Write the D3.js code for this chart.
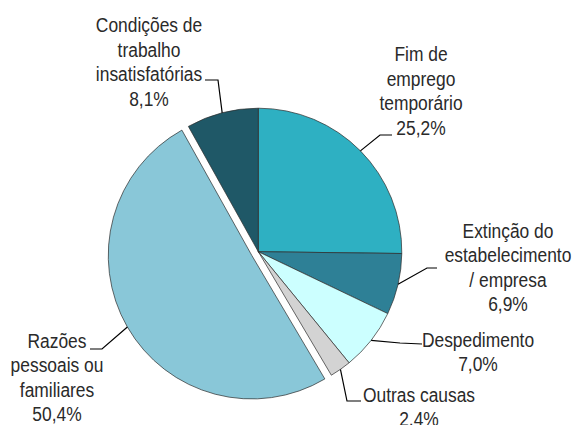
<!DOCTYPE html>
<html lang="pt">
<head>
<meta charset="UTF-8">
<title>Motivos de saída</title>
<style>
    body {
        margin: 0;
        background: #FFFFFF;
    }
    svg text {
        font-family: "Liberation Sans", Arial, sans-serif;
        font-size: 20px;
        fill: #2a2a2a;
    }
</style>
</head>
<body>
<svg id="chart" width="574" height="425"></svg>
<script src="https://d3js.org/d3.v7.min.js"></script>
<script>
    // Data (clockwise from 12 o'clock)
    const categories = [
        "Fim de emprego temporário",
        "Extinção do estabelecimento / empresa",
        "Despedimento",
        "Outras causas",
        "Razões pessoais ou familiares",
        "Condições de trabalho insatisfatórias"
    ];
    const values = [25.2, 6.9, 7.0, 2.4, 50.4, 8.1];
    const valueLabels = ["25,2%", "6,9%", "7,0%", "2,4%", "50,4%", "8,1%"];
    const labelLines = [
        ["Fim de", "emprego", "temporário"],
        ["Extinção do", "estabelecimento", "/ empresa"],
        ["Despedimento"],
        ["Outras causas"],
        ["Razões", "pessoais ou", "familiares"],
        ["Condições de", "trabalho", "insatisfatórias"]
    ];
    const colors = ["#2EB0C2", "#2E8096", "#CCFFFF", "#D3D3D3", "#89C7D8", "#1F5867"];
    const exploded = [false, false, false, false, true, false];

    // Layout
    const cx = 258.3, cy = 251.7, radius = 143.5, explode = 7.5;
    const lineHeight = 24.5;
    const squeeze = 0.87; // narrow look of the original font
    // text centre, first baseline, elbow, leader end
    const labelPos = [
        { x: 421, y: 61.5, elbow: [380, 135], end: [392, 135] },
        { x: 508, y: 238, elbow: [427, 268], end: [437, 268] },
        { x: 478, y: 347, elbow: [400, 343], end: [422, 344] },
        { x: 419, y: 402, elbow: [347, 401], end: [361, 401] },
        { x: 57, y: 348, elbow: [102, 349], end: [90, 349] },
        { x: 149, y: 32.5, elbow: [218, 80], end: [205, 80] }
    ];

    const svg = d3.select("#chart");

    const pie = d3.pie()
        .sort(null)
        .value(d => d)
        .startAngle(0)
        .endAngle(2 * Math.PI);

    const arcs = pie(values);

    const arc = d3.arc()
        .innerRadius(0)
        .outerRadius(radius);

    function offsetFor(d, i) {
        if (!exploded[i]) return [0, 0];
        const mid = (d.startAngle + d.endAngle) / 2;
        return [Math.sin(mid) * explode, -Math.cos(mid) * explode];
    }

    const g = svg.append("g").attr("transform", `translate(${cx},${cy})`);

    g.selectAll("path.slice")
        .data(arcs)
        .join("path")
        .attr("class", "slice")
        .attr("transform", (d, i) => {
            const o = offsetFor(d, i);
            return `translate(${o[0]},${o[1]})`;
        })
        .attr("d", arc)
        .attr("fill", (d, i) => colors[i])
        .attr("stroke", "#2b2b2b")
        .attr("stroke-width", 0.7)
        .attr("stroke-linejoin", "round");

    // Leader lines
    arcs.forEach((d, i) => {
        const mid = (d.startAngle + d.endAngle) / 2;
        const o = offsetFor(d, i);
        const sx = cx + o[0] + Math.sin(mid) * radius;
        const sy = cy + o[1] - Math.cos(mid) * radius;
        const p = labelPos[i];
        svg.append("polyline")
            .attr("points", `${sx},${sy} ${p.elbow[0]},${p.elbow[1]} ${p.end[0]},${p.end[1]}`)
            .attr("fill", "none")
            .attr("stroke", "#000000")
            .attr("stroke-width", 1.2);
    });

    // Labels
    labelLines.forEach((lines, i) => {
        const p = labelPos[i];
        const t = svg.append("g")
            .attr("transform", `translate(${p.x},0) scale(${squeeze},1)`)
            .append("text")
            .attr("text-anchor", "middle")
            .attr("x", 0)
            .attr("y", p.y);
        lines.concat([valueLabels[i]]).forEach((line, j) => {
            t.append("tspan")
                .attr("x", 0)
                .attr("dy", j === 0 ? 0 : lineHeight)
                .text(line);
        });
    });
</script>
</body>
</html>
